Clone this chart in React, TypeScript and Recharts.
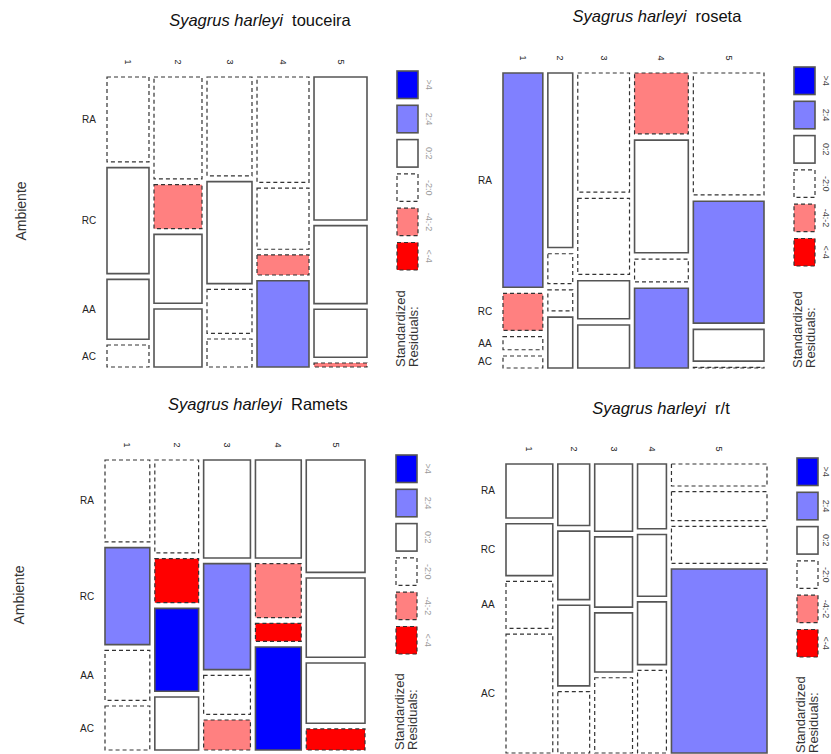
import React from 'react';
import { ComposedChart, XAxis, YAxis, ReferenceArea, Scatter } from 'recharts';

// ---------- data ----------
const columns = ['1', '2', '3', '4', '5'];
const rows = ['RA', 'RC', 'AA', 'AC'];
const legendLabels = ['>4', '2:4', '0:2', '-2:0', '-4:-2', '<-4'];

// touceira
const touceiraWidths = [42, 48, 45, 52, 53];
const touceiraCells = [
  [85, 106, 60, 22],
  [102, 44, 69, 58],
  [99, 102, 44, 28],
  [105, 61, 20, 86],
  [143, 78, 48, 4],
];
const touceiraResid = [
  ['-2:0', '0:2', '0:2', '-2:0'],
  ['-2:0', '-4:-2', '0:2', '0:2'],
  ['-2:0', '0:2', '-2:0', '-2:0'],
  ['-2:0', '-2:0', '-4:-2', '2:4'],
  ['0:2', '0:2', '0:2', '-4:-2'],
];

// roseta
const rosetaWidths = [40, 25, 52, 54, 71];
const rosetaCells = [
  [214, 37, 13, 12],
  [175, 30, 21, 51],
  [119, 76, 38, 43],
  [61, 113, 23, 80],
  [123, 123, 32, 0.6],
];
const rosetaResid = [
  ['2:4', '-4:-2', '-2:0', '-2:0'],
  ['0:2', '-2:0', '-2:0', '0:2'],
  ['-2:0', '-2:0', '0:2', '0:2'],
  ['-4:-2', '0:2', '-2:0', '2:4'],
  ['-2:0', '2:4', '0:2', '-2:0'],
];

// Ramets
const rametsWidths = [45, 44, 47, 46, 59];
const rametsCells = [
  [82, 97, 50, 44],
  [93, 44, 83, 53],
  [98, 106, 39, 30],
  [98, 54, 18, 103],
  [112, 79, 60, 21],
];
const rametsResid = [
  ['-2:0', '2:4', '-2:0', '-2:0'],
  ['-2:0', '<-4', '>4', '0:2'],
  ['0:2', '2:4', '-2:0', '-4:-2'],
  ['0:2', '-4:-2', '<-4', '>4'],
  ['0:2', '0:2', '0:2', '<-4'],
];

// r/t
const rtWidths = [47, 32, 38, 29, 96];
const rtCells = [
  [54, 52, 47, 119],
  [61, 68, 80, 61],
  [67, 70, 59, 75],
  [65, 62, 63, 83],
  [22, 29, 37, 184],
];
const rtResid = [
  ['0:2', '0:2', '-2:0', '-2:0'],
  ['0:2', '0:2', '0:2', '-2:0'],
  ['0:2', '0:2', '0:2', '-2:0'],
  ['0:2', '0:2', '0:2', '-2:0'],
  ['-2:0', '-2:0', '-2:0', '2:4'],
];

// ---------- styles ----------
const FILL: Record<string, string> = {
  '>4': '#0000FF',
  '2:4': '#8080FF',
  '0:2': '#FFFFFF',
  '-2:0': '#FFFFFF',
  '-4:-2': '#FF8080',
  '<-4': '#FF0000',
};
const isNeg = (r: string) => r === '-2:0' || r === '-4:-2' || r === '<-4';

const W = 831;
const H = 754;
const FONT = '"Liberation Sans", Arial, sans-serif';

const sum = (a: number[]) => a.reduce((s, v) => s + v, 0);

function mosaic(widths: number[], cells: number[][], resid: string[][], gapX: number, gapY: number) {
  const rects: any[] = [];
  const colCenters: number[] = [];
  const rowCenters: number[] = [];
  const availW = 1 - gapX * (widths.length - 1);
  const totW = sum(widths);
  let x = 0;
  widths.forEach((w, i) => {
    const cw = (w / totW) * availW;
    colCenters.push(x + cw / 2);
    const col = cells[i];
    const tot = sum(col);
    const availH = 1 - gapY * (col.length - 1);
    let y = 0;
    col.forEach((h, j) => {
      const ch = (h / tot) * availH;
      rects.push({ x1: x, x2: x + cw, y1: y, y2: y + ch, r: resid[i][j], key: `${i}-${j}`, cx: x + cw / 2, cy: y + ch / 2 });
      if (i === 0) rowCenters.push(y + ch / 2);
      y += ch + gapY;
    });
    x += cw + gapX;
  });
  return { rects, colCenters, rowCenters };
}

type Box = { left: number; top: number; right: number; bottom: number };

const panels = [
  { title: 'touceira', widths: touceiraWidths, cells: touceiraCells, resid: touceiraResid,
    box: { left: 107, top: 77, right: 367, bottom: 367 }, gy: 0.0197 },
  { title: 'roseta', widths: rosetaWidths, cells: rosetaCells, resid: rosetaResid,
    box: { left: 503, top: 73, right: 764, bottom: 368 }, gy: 0.0212 },
  { title: 'Ramets', widths: rametsWidths, cells: rametsCells, resid: rametsResid,
    box: { left: 105, top: 460, right: 365, bottom: 750 }, gy: 0.0197 },
  { title: 'r/t', widths: rtWidths, cells: rtCells, resid: rtResid,
    box: { left: 506, top: 464, right: 767, bottom: 753 }, gy: 0.0197 },
];

const titlePos = [
  { x: 260, y: 26 },
  { x: 657, y: 22 },
  { x: 258, y: 410 },
  { x: 661, y: 414 },
];

const legendPos = [
  { x: 397, top: 71, labelColor: '#9a9a9a', dx: 32 },
  { x: 794, top: 67, labelColor: '#444', dx: 32 },
  { x: 396, top: 455, labelColor: '#9a9a9a', dx: 32 },
  { x: 797, top: 458, labelColor: '#444', dx: 29 },
];

function Panel({ p }: { p: any }) {
  const box: Box = p.box;
  const { rects, colCenters, rowCenters } = mosaic(p.widths, p.cells, p.resid, 0.0193, p.gy);
  const yW = 20;
  const xH = 20;
  const colLabelY = box.top - 15;
  const rowLabelX = box.left - 18;
  const pts = rects.map((r: any) => ({ x: r.cx, y: r.cy }));
  return (
    <div style={{ position: 'absolute', left: 0, top: 0 }}>
      <ComposedChart
        width={W}
        height={H}
        data={pts}
        margin={{ left: box.left - yW, top: box.top - xH, right: W - box.right, bottom: H - box.bottom }}
      >
        <XAxis
          xAxisId={0}
          dataKey="x"
          type="number"
          orientation="top"
          domain={[0, 1]}
          allowDataOverflow
          ticks={colCenters}
          interval={0}
          height={xH}
          axisLine={false}
          tickLine={false}
          tick={(tp: any) => {
            const idx = tp.index ?? tp.payload?.index ?? 0;
            return (
              <text
                x={tp.x}
                y={colLabelY}
                textAnchor="middle"
                dominantBaseline="central"
                fontSize={9}
                fill="#222"
                fontFamily={FONT}
                transform={`rotate(90 ${tp.x} ${colLabelY})`}
              >
                {columns[idx]}
              </text>
            );
          }}
        />
        <YAxis
          yAxisId={0}
          dataKey="y"
          type="number"
          domain={[0, 1]}
          reversed
          allowDataOverflow
          ticks={rowCenters}
          interval={0}
          width={yW}
          axisLine={false}
          tickLine={false}
          tick={(tp: any) => {
            const idx = tp.index ?? tp.payload?.index ?? 0;
            return (
              <text
                x={rowLabelX}
                y={tp.y}
                textAnchor="middle"
                dominantBaseline="central"
                fontSize={10}
                fill="#222"
                fontFamily={FONT}
              >
                {rows[idx]}
              </text>
            );
          }}
        />
        <Scatter xAxisId={0} yAxisId={0} dataKey="y" isAnimationActive={false} shape={() => <g />} />
        {rects.map((r: any) => (
          <ReferenceArea
            key={r.key}
            xAxisId={0}
            yAxisId={0}
            x1={r.x1}
            x2={r.x2}
            y1={r.y1}
            y2={r.y2}
            ifOverflow="visible"
            fill={FILL[r.r]}
            fillOpacity={1}
            stroke={isNeg(r.r) ? '#333' : '#555'}
            strokeWidth={isNeg(r.r) ? 1.2 : 1.6}
            strokeDasharray={isNeg(r.r) ? '4 3' : undefined}
          />
        ))}
      </ComposedChart>
    </div>
  );
}

function Decorations() {
  const step = 34.3;
  const bh = 27.5;
  return (
    <svg width={W} height={H} style={{ position: 'absolute', left: 0, top: 0, pointerEvents: 'none' }}>
      {panels.map((p, i) => (
        <text key={'t' + i} x={titlePos[i].x} y={titlePos[i].y} textAnchor="middle" fontSize={16.5} fontFamily={FONT} fill="#111">
          <tspan fontStyle="italic">Syagrus harleyi</tspan>
          <tspan>{'\u00A0\u00A0' + p.title}</tspan>
        </text>
      ))}
      {[{ x: 26, y: 211 }, { x: 24, y: 595 }].map((a, i) => (
        <text key={'a' + i} x={a.x} y={a.y} textAnchor="middle" fontSize={14} fontFamily={FONT} fill="#333"
          transform={`rotate(-90 ${a.x} ${a.y})`}>Ambiente</text>
      ))}
      {legendPos.map((lg, i) => (
        <g key={'lg' + i}>
          {legendLabels.map((lab, j) => {
            const y = lg.top + j * step;
            const cy = y + bh / 2;
            const lx = lg.x + lg.dx;
            return (
              <g key={lab}>
                <rect x={lg.x} y={y} width={21} height={bh} fill={FILL[lab]}
                  stroke={isNeg(lab) ? '#333' : '#555'} strokeWidth={isNeg(lab) ? 1.2 : 1.6}
                  strokeDasharray={isNeg(lab) ? '4 3' : undefined} />
                <text x={lx} y={cy} textAnchor="middle" dominantBaseline="central" fontSize={9}
                  fontFamily={FONT} fill={lg.labelColor} transform={`rotate(90 ${lx} ${cy})`}>{lab}</text>
              </g>
            );
          })}
          <text x={lg.x + 8} y={panels[i].box.bottom} fontSize={13} fontFamily={FONT} fill="#333"
            transform={`rotate(-90 ${lg.x + 8} ${panels[i].box.bottom})`}>Standardized</text>
          <text x={lg.x + 21} y={panels[i].box.bottom} fontSize={13} fontFamily={FONT} fill="#333"
            transform={`rotate(-90 ${lg.x + 21} ${panels[i].box.bottom})`}>Residuals:</text>
        </g>
      ))}
    </svg>
  );
}

export default function App() {
  return (
    <div style={{ position: 'absolute', left: 0, top: 0, width: W, height: H, background: '#fff', overflow: 'hidden' }}>
      {panels.map((p, i) => (
        <Panel key={i} p={p} />
      ))}
      <Decorations />
    </div>
  );
}
